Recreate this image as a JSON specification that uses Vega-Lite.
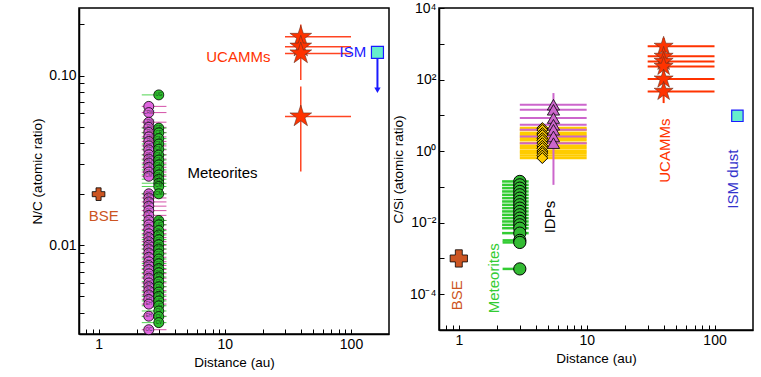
{
  "$schema": "https://vega.github.io/schema/vega-lite/v6.json",
  "padding": {"left": 30, "top": 0, "right": 2, "bottom": 2},
  "config": {
    "font": "Liberation Sans",
    "view": {"stroke": "black", "strokeWidth": 1.5},
    "axis": {
      "grid": false, "domainColor": "black", "domainWidth": 1.5, "tickColor": "black", "tickWidth": 1, "tickSize": -5, "labelPadding": 8,
      "labelFont": "Liberation Sans", "labelFontSize": 14, "labelColor": "black",
      "titleFont": "Liberation Sans", "titleFontSize": 13.5, "titleFontWeight": "normal", "titleColor": "black",
      "labelOverlap": false
    }
  },
  "datasets": {
    "L_bse": [{"d": 1, "v": 0.02}],
    "L_pink": [
      {"d": 2.5, "v": 0.0658, "lab": "", "d1": 2.2, "d2": 3.45},
      {"d": 2.5, "v": 0.0605, "lab": "CRW", "d1": 2.2, "d2": 3.45},
      {"d": 2.5, "v": 0.0531, "lab": "CRW", "d1": 2.2, "d2": 3.45},
      {"d": 2.5, "v": 0.0495, "lab": "CRW", "d1": 2.2, "d2": 3.45},
      {"d": 2.5, "v": 0.0462, "lab": "CRW", "d1": 2.2, "d2": 3.45},
      {"d": 2.5, "v": 0.0435, "lab": "CRW", "d1": 2.2, "d2": 3.45},
      {"d": 2.5, "v": 0.0409, "lab": "CRW", "d1": 2.2, "d2": 3.45},
      {"d": 2.5, "v": 0.0385, "lab": "CR", "d1": 2.2, "d2": 3.45},
      {"d": 2.5, "v": 0.0365, "lab": "CR", "d1": 2.2, "d2": 3.45},
      {"d": 2.5, "v": 0.0342, "lab": "CR", "d1": 2.2, "d2": 3.45},
      {"d": 2.5, "v": 0.0322, "lab": "CR", "d1": 2.2, "d2": 3.45},
      {"d": 2.5, "v": 0.0305, "lab": "CM", "d1": 2.2, "d2": 3.45},
      {"d": 2.5, "v": 0.0288, "lab": "CM", "d1": 2.2, "d2": 3.45},
      {"d": 2.5, "v": 0.027, "lab": "CM", "d1": 2.2, "d2": 3.45},
      {"d": 2.5, "v": 0.0255, "lab": "CM", "d1": 2.2, "d2": 3.45},
      {"d": 2.5, "v": 0.0201, "lab": "CO", "d1": 2.2, "d2": 3.45},
      {"d": 2.5, "v": 0.019, "lab": "OC", "d1": 2.2, "d2": 3.45},
      {"d": 2.5, "v": 0.018, "lab": "OC", "d1": 2.2, "d2": 3.45},
      {"d": 2.5, "v": 0.017, "lab": "OC", "d1": 2.2, "d2": 3.45},
      {"d": 2.5, "v": 0.016, "lab": "OC", "d1": 2.2, "d2": 3.45},
      {"d": 2.5, "v": 0.015, "lab": "OC", "d1": 2.2, "d2": 3.45},
      {"d": 2.5, "v": 0.014, "lab": "OC", "d1": 2.2, "d2": 3.45},
      {"d": 2.5, "v": 0.0132, "lab": "OC", "d1": 2.2, "d2": 3.45},
      {"d": 2.5, "v": 0.0124, "lab": "OC", "d1": 2.2, "d2": 3.45},
      {"d": 2.5, "v": 0.0117, "lab": "OC", "d1": 2.2, "d2": 3.45},
      {"d": 2.5, "v": 0.0111, "lab": "OC", "d1": 2.2, "d2": 3.45},
      {"d": 2.5, "v": 0.0105, "lab": "OC", "d1": 2.2, "d2": 3.45},
      {"d": 2.5, "v": 0.01, "lab": "OC", "d1": 2.2, "d2": 3.45},
      {"d": 2.5, "v": 0.0095, "lab": "OC", "d1": 2.2, "d2": 3.45},
      {"d": 2.5, "v": 0.009, "lab": "OC", "d1": 2.2, "d2": 3.45},
      {"d": 2.5, "v": 0.0085, "lab": "OC", "d1": 2.2, "d2": 3.45},
      {"d": 2.5, "v": 0.008, "lab": "OC", "d1": 2.2, "d2": 3.45},
      {"d": 2.5, "v": 0.0076, "lab": "OC", "d1": 2.2, "d2": 3.45},
      {"d": 2.5, "v": 0.0072, "lab": "CO", "d1": 2.2, "d2": 3.45},
      {"d": 2.5, "v": 0.0068, "lab": "CO", "d1": 2.2, "d2": 3.45},
      {"d": 2.5, "v": 0.0064, "lab": "CO", "d1": 2.2, "d2": 3.45},
      {"d": 2.5, "v": 0.006, "lab": "CO", "d1": 2.2, "d2": 3.45},
      {"d": 2.5, "v": 0.0057, "lab": "OC", "d1": 2.2, "d2": 3.45},
      {"d": 2.5, "v": 0.0054, "lab": "OC", "d1": 2.2, "d2": 3.45},
      {"d": 2.5, "v": 0.0051, "lab": "OC", "d1": 2.2, "d2": 3.45},
      {"d": 2.5, "v": 0.0048, "lab": "EH", "d1": 2.2, "d2": 3.45},
      {"d": 2.5, "v": 0.0045, "lab": "EH", "d1": 2.2, "d2": 3.45},
      {"d": 2.5, "v": 0.00382, "lab": "EH", "d1": 2.2, "d2": 3.45},
      {"d": 2.5, "v": 0.00318, "lab": "OC", "d1": 2.2, "d2": 3.45}
    ],
    "L_green": [
      {"d": 3.0, "v": 0.0769, "lab": "UG", "d1": 2.2, "d2": 2.9},
      {"d": 3.0, "v": 0.049, "lab": "CR", "d1": 2.2, "d2": 3.45},
      {"d": 3.0, "v": 0.046, "lab": "CR", "d1": 2.2, "d2": 3.45},
      {"d": 3.0, "v": 0.0425, "lab": "CM", "d1": 2.2, "d2": 3.45},
      {"d": 3.0, "v": 0.0395, "lab": "CM", "d1": 2.2, "d2": 3.45},
      {"d": 3.0, "v": 0.0368, "lab": "CM", "d1": 2.2, "d2": 3.45},
      {"d": 3.0, "v": 0.034, "lab": "CM", "d1": 2.2, "d2": 3.45},
      {"d": 3.0, "v": 0.0318, "lab": "CM", "d1": 2.2, "d2": 3.45},
      {"d": 3.0, "v": 0.0298, "lab": "CM", "d1": 2.2, "d2": 3.45},
      {"d": 3.0, "v": 0.0278, "lab": "CM", "d1": 2.2, "d2": 3.45},
      {"d": 3.0, "v": 0.026, "lab": "CM", "d1": 2.2, "d2": 3.45},
      {"d": 3.0, "v": 0.0245, "lab": "CM", "d1": 2.2, "d2": 3.45},
      {"d": 3.0, "v": 0.0232, "lab": "CM", "d1": 2.2, "d2": 3.45},
      {"d": 3.0, "v": 0.0222, "lab": "CM", "d1": 2.2, "d2": 3.45},
      {"d": 3.0, "v": 0.0201, "lab": "CM", "d1": 2.2, "d2": 3.45},
      {"d": 3.0, "v": 0.014, "lab": "UG", "d1": 2.2, "d2": 3.45},
      {"d": 3.0, "v": 0.0132, "lab": "UG", "d1": 2.2, "d2": 3.45},
      {"d": 3.0, "v": 0.0122, "lab": "CV", "d1": 2.2, "d2": 3.45},
      {"d": 3.0, "v": 0.0115, "lab": "CV", "d1": 2.2, "d2": 3.45},
      {"d": 3.0, "v": 0.0108, "lab": "CO", "d1": 2.2, "d2": 3.45},
      {"d": 3.0, "v": 0.0101, "lab": "CO", "d1": 2.2, "d2": 3.45},
      {"d": 3.0, "v": 0.0095, "lab": "CO", "d1": 2.2, "d2": 3.45},
      {"d": 3.0, "v": 0.0089, "lab": "CO", "d1": 2.2, "d2": 3.45},
      {"d": 3.0, "v": 0.0083, "lab": "CO", "d1": 2.2, "d2": 3.45},
      {"d": 3.0, "v": 0.0078, "lab": "CO", "d1": 2.2, "d2": 3.45},
      {"d": 3.0, "v": 0.0073, "lab": "CO", "d1": 2.2, "d2": 3.45},
      {"d": 3.0, "v": 0.0069, "lab": "CO", "d1": 2.2, "d2": 3.45},
      {"d": 3.0, "v": 0.0065, "lab": "CV", "d1": 2.2, "d2": 3.45},
      {"d": 3.0, "v": 0.0061, "lab": "CV", "d1": 2.2, "d2": 3.45},
      {"d": 3.0, "v": 0.0057, "lab": "CV", "d1": 2.2, "d2": 3.45},
      {"d": 3.0, "v": 0.0053, "lab": "CK", "d1": 2.2, "d2": 3.45},
      {"d": 3.0, "v": 0.005, "lab": "CK", "d1": 2.2, "d2": 3.45},
      {"d": 3.0, "v": 0.0047, "lab": "UG", "d1": 2.2, "d2": 3.45},
      {"d": 3.0, "v": 0.0044, "lab": "UG", "d1": 2.2, "d2": 3.45},
      {"d": 3.0, "v": 0.0041, "lab": "CV", "d1": 2.2, "d2": 3.45},
      {"d": 3.0, "v": 0.0038, "lab": "CV", "d1": 2.2, "d2": 3.45},
      {"d": 3.0, "v": 0.0035, "lab": "CV", "d1": 2.2, "d2": 3.45}
    ],
    "L_uc": [
      {"d": 40, "v": 0.169, "d1": 30, "d2": 100, "v1": 0.145, "v2": 0.2},
      {"d": 40, "v": 0.148, "d1": 30, "d2": 100, "v1": 0.13, "v2": 0.175},
      {"d": 40, "v": 0.135, "d1": 30, "d2": 100, "v1": 0.094, "v2": 0.16},
      {"d": 40, "v": 0.0574, "d1": 30, "d2": 100, "v1": 0.0272, "v2": 0.0862}
    ],
    "L_ism": [{"d": 162, "v": 0.137, "v2": 0.082}],
    "L_text": [
      {"d": 12.8, "v": 0.128, "t": "UCAMMs", "g": "uc"},
      {"d": 9.6, "v": 0.0266, "t": "Meteorites", "g": "k"},
      {"d": 1.1, "v": 0.0149, "t": "BSE", "g": "bse"}
    ],
    "L_text_ism": [{"d": 132, "v": 0.137, "t": "ISM"}],
    "R_bse": [{"d": 1, "v": 0.001}],
    "R_met": [
      {"d": 3, "v": 0.142, "d1": 2.18, "d2": 3.52},
      {"d": 3, "v": 0.114, "d1": 2.18, "d2": 3.52},
      {"d": 3, "v": 0.0923, "d1": 2.18, "d2": 3.52},
      {"d": 3, "v": 0.0745, "d1": 2.18, "d2": 3.52},
      {"d": 3, "v": 0.0601, "d1": 2.18, "d2": 3.52},
      {"d": 3, "v": 0.0485, "d1": 2.18, "d2": 3.52},
      {"d": 3, "v": 0.0391, "d1": 2.18, "d2": 3.52},
      {"d": 3, "v": 0.0316, "d1": 2.18, "d2": 3.52},
      {"d": 3, "v": 0.0255, "d1": 2.18, "d2": 3.52},
      {"d": 3, "v": 0.0206, "d1": 2.18, "d2": 3.52},
      {"d": 3, "v": 0.0166, "d1": 2.18, "d2": 3.52},
      {"d": 3, "v": 0.0134, "d1": 2.18, "d2": 3.52},
      {"d": 3, "v": 0.0108, "d1": 2.18, "d2": 3.52},
      {"d": 3, "v": 0.0087, "d1": 2.18, "d2": 3.52},
      {"d": 3, "v": 0.007, "d1": 2.18, "d2": 3.52},
      {"d": 3, "v": 0.0051, "d1": 2.18, "d2": 3.52},
      {"d": 3, "v": 0.0032, "d1": 2.2, "d2": 3.3},
      {"d": 3, "v": 0.0028, "d1": 2.2, "d2": 3.3},
      {"d": 3, "v": 0.00051, "d1": 2.2, "d2": 3.0}
    ],
    "R_dia": [
      {"d": 4.5, "v": 4.4, "d1": 3, "d2": 10},
      {"d": 4.5, "v": 3.9, "d1": 3, "d2": 10},
      {"d": 4.5, "v": 3.19, "d1": 3, "d2": 10},
      {"d": 4.5, "v": 2.8, "d1": 3, "d2": 10},
      {"d": 4.5, "v": 2.31, "d1": 3, "d2": 10},
      {"d": 4.5, "v": 2.0, "d1": 3, "d2": 10},
      {"d": 4.5, "v": 1.67, "d1": 3, "d2": 10},
      {"d": 4.5, "v": 1.4, "d1": 3, "d2": 10},
      {"d": 4.5, "v": 1.21, "d1": 3, "d2": 10},
      {"d": 4.5, "v": 1.0, "d1": 3, "d2": 10},
      {"d": 4.5, "v": 0.88, "d1": 3, "d2": 10},
      {"d": 4.5, "v": 0.75, "d1": 3, "d2": 10},
      {"d": 4.5, "v": 0.64, "d1": 3, "d2": 10}
    ],
    "R_tri": [
      {"d": 5.5, "v": 19.8, "d1": 3, "d2": 10},
      {"d": 5.5, "v": 14.3, "d1": 3, "d2": 10},
      {"d": 5.5, "v": 8.4, "d1": 3, "d2": 10},
      {"d": 5.5, "v": 5.45, "d1": 3, "d2": 10},
      {"d": 5.5, "v": 3.95, "d1": 3, "d2": 10},
      {"d": 5.5, "v": 2.57, "d1": 3, "d2": 10},
      {"d": 5.5, "v": 1.67, "d1": 3, "d2": 10}
    ],
    "R_tri_v": [{"d": 5.5, "v1": 0.114, "v2": 41.9}],
    "R_uc": [
      {"d": 40, "v": 848, "d1": 30, "d2": 100},
      {"d": 40, "v": 445, "d1": 30, "d2": 100},
      {"d": 40, "v": 322, "d1": 30, "d2": 100},
      {"d": 40, "v": 233, "d1": 30, "d2": 100},
      {"d": 40, "v": 103, "d1": 30, "d2": 100},
      {"d": 40, "v": 46.7, "d1": 30, "d2": 100}
    ],
    "R_uc_v": [{"d": 40, "v1": 22, "v2": 1450}],
    "R_ism": [{"d": 151, "v": 9.7}],
    "R_text": [
      {"d": 0.96, "v": 0.000093, "t": "BSE", "g": "bse"},
      {"d": 1.87, "v": 0.00028, "t": "Meteorites", "g": "met"},
      {"d": 5.2, "v": 0.0143, "t": "IDPs", "g": "k"},
      {"d": 41, "v": 1.03, "t": "UCAMMs", "g": "uc"},
      {"d": 140, "v": 0.165, "t": "ISM dust", "g": "ism2"}
    ]
  },
  "spacing": 0,
  "hconcat": [
    {
      "width": 310,
      "height": 326,
      "layer": [
        {
          "data": {"name": "L_pink"},
          "mark": {"type": "rule", "color": "#cc3399", "strokeWidth": 1, "opacity": 0.85},
          "encoding": {
            "x": {"field": "d1", "type": "quantitative", "scale": {"type": "log", "domain": [0.7, 200], "nice": false},
              "axis": {"title": "Distance (au)", "values": [0.8, 0.9, 1, 2, 3, 4, 5, 6, 7, 8, 9, 10, 20, 30, 40, 50, 60, 70, 80, 90, 100],
                "labelExpr": "datum.value == 1 ? '1' : datum.value == 10 ? '10' : datum.value == 100 ? '100' : ''"}},
            "x2": {"field": "d2"},
            "y": {"field": "v", "type": "quantitative", "scale": {"type": "log", "domain": [0.003, 0.25], "nice": false},
              "axis": {"title": "N/C (atomic ratio)", "values": [0.003, 0.004, 0.005, 0.006, 0.007, 0.008, 0.009, 0.01, 0.02, 0.03, 0.04, 0.05, 0.06, 0.07, 0.08, 0.09, 0.1, 0.2],
                "labelExpr": "datum.value == 0.1 ? '0.10' : datum.value == 0.01 ? '0.01' : ''"}}
          }
        },
        {
          "data": {"name": "L_green"},
          "mark": {"type": "rule", "color": "#33cc33", "strokeWidth": 1, "opacity": 0.85},
          "encoding": {
            "x": {"field": "d1", "type": "quantitative", "scale": {"type": "log", "domain": [0.7, 200], "nice": false}},
            "x2": {"field": "d2"},
            "y": {"field": "v", "type": "quantitative", "scale": {"type": "log", "domain": [0.003, 0.25], "nice": false}}
          }
        },
        {
          "data": {"name": "L_pink"},
          "mark": {"type": "point", "shape": "circle", "filled": true, "fill": "#e066e0", "stroke": "black", "strokeWidth": 0.8, "size": 100, "opacity": 1},
          "encoding": {
            "x": {"field": "d", "type": "quantitative", "scale": {"type": "log", "domain": [0.7, 200], "nice": false}},
            "y": {"field": "v", "type": "quantitative", "scale": {"type": "log", "domain": [0.003, 0.25], "nice": false}}
          }
        },
        {
          "data": {"name": "L_pink"},
          "mark": {"type": "text", "fontSize": 4.5, "color": "#553355"},
          "encoding": {
            "x": {"field": "d", "type": "quantitative", "scale": {"type": "log", "domain": [0.7, 200], "nice": false}},
            "y": {"field": "v", "type": "quantitative", "scale": {"type": "log", "domain": [0.003, 0.25], "nice": false}},
            "text": {"field": "lab"}
          }
        },
        {
          "data": {"name": "L_green"},
          "mark": {"type": "point", "shape": "circle", "filled": true, "fill": "#2fbf2f", "stroke": "black", "strokeWidth": 0.8, "size": 100, "opacity": 1},
          "encoding": {
            "x": {"field": "d", "type": "quantitative", "scale": {"type": "log", "domain": [0.7, 200], "nice": false}},
            "y": {"field": "v", "type": "quantitative", "scale": {"type": "log", "domain": [0.003, 0.25], "nice": false}}
          }
        },
        {
          "data": {"name": "L_green"},
          "mark": {"type": "text", "fontSize": 4.5, "color": "#114411"},
          "encoding": {
            "x": {"field": "d", "type": "quantitative", "scale": {"type": "log", "domain": [0.7, 200], "nice": false}},
            "y": {"field": "v", "type": "quantitative", "scale": {"type": "log", "domain": [0.003, 0.25], "nice": false}},
            "text": {"field": "lab"}
          }
        },
        {
          "data": {"name": "L_bse"},
          "mark": {"type": "point", "shape": "cross", "filled": true, "fill": "#cc5522", "stroke": "black", "strokeWidth": 0.8, "size": 160, "opacity": 1},
          "encoding": {
            "x": {"field": "d", "type": "quantitative", "scale": {"type": "log", "domain": [0.7, 200], "nice": false}},
            "y": {"field": "v", "type": "quantitative", "scale": {"type": "log", "domain": [0.003, 0.25], "nice": false}}
          }
        },
        {
          "data": {"name": "L_uc"},
          "mark": {"type": "rule", "color": "#ff4422", "strokeWidth": 1.5},
          "encoding": {
            "x": {"field": "d1", "type": "quantitative", "scale": {"type": "log", "domain": [0.7, 200], "nice": false}},
            "x2": {"field": "d2"},
            "y": {"field": "v", "type": "quantitative", "scale": {"type": "log", "domain": [0.003, 0.25], "nice": false}}
          }
        },
        {
          "data": {"name": "L_uc"},
          "mark": {"type": "rule", "color": "#ff4422", "strokeWidth": 1.5},
          "encoding": {
            "x": {"field": "d", "type": "quantitative", "scale": {"type": "log", "domain": [0.7, 200], "nice": false}},
            "y": {"field": "v1", "type": "quantitative", "scale": {"type": "log", "domain": [0.003, 0.25], "nice": false}},
            "y2": {"field": "v2"}
          }
        },
        {
          "data": {"name": "L_uc"},
          "mark": {"type": "point", "shape": "M0,-1L0.225,-0.309L0.951,-0.309L0.363,0.118L0.588,0.809L0,0.382L-0.588,0.809L-0.363,0.118L-0.951,-0.309L-0.225,-0.309Z", "filled": true, "fill": "#ff3300", "stroke": "#663322", "strokeWidth": 0.6, "size": 520, "opacity": 1},
          "encoding": {
            "x": {"field": "d", "type": "quantitative", "scale": {"type": "log", "domain": [0.7, 200], "nice": false}},
            "y": {"field": "v", "type": "quantitative", "scale": {"type": "log", "domain": [0.003, 0.25], "nice": false}}
          }
        },
        {
          "data": {"name": "L_ism"},
          "mark": {"type": "rule", "color": "#1a1aff", "strokeWidth": 2},
          "encoding": {
            "x": {"field": "d", "type": "quantitative", "scale": {"type": "log", "domain": [0.7, 200], "nice": false}},
            "y": {"field": "v", "type": "quantitative", "scale": {"type": "log", "domain": [0.003, 0.25], "nice": false}},
            "y2": {"field": "v2"}
          }
        },
        {
          "data": {"name": "L_ism"},
          "mark": {"type": "point", "shape": "triangle-down", "filled": true, "fill": "#1a1aff", "size": 40, "opacity": 1},
          "encoding": {
            "x": {"field": "d", "type": "quantitative", "scale": {"type": "log", "domain": [0.7, 200], "nice": false}},
            "y": {"field": "v2", "type": "quantitative", "scale": {"type": "log", "domain": [0.003, 0.25], "nice": false}}
          }
        },
        {
          "data": {"name": "L_ism"},
          "mark": {"type": "point", "shape": "square", "filled": true, "fill": "#66eecc", "stroke": "#1a1aff", "strokeWidth": 1.2, "size": 144, "opacity": 1},
          "encoding": {
            "x": {"field": "d", "type": "quantitative", "scale": {"type": "log", "domain": [0.7, 200], "nice": false}},
            "y": {"field": "v", "type": "quantitative", "scale": {"type": "log", "domain": [0.003, 0.25], "nice": false}}
          }
        },
        {
          "data": {"name": "L_text"},
          "mark": {"type": "text", "fontSize": 15, "align": "center", "baseline": "middle"},
          "encoding": {
            "x": {"field": "d", "type": "quantitative", "scale": {"type": "log", "domain": [0.7, 200], "nice": false}},
            "y": {"field": "v", "type": "quantitative", "scale": {"type": "log", "domain": [0.003, 0.25], "nice": false}},
            "text": {"field": "t"},
            "color": {"field": "g", "type": "nominal", "scale": {"domain": ["uc", "k", "bse", "ism", "met", "ism2"], "range": ["#ff3300", "#000000", "#cc5522", "#1a1aff", "#33cc33", "#3333cc"]}, "legend": null}
          }
        },
        {
          "data": {"name": "L_text_ism"},
          "mark": {"type": "text", "fontSize": 15, "align": "right", "baseline": "middle", "color": "#1a1aff"},
          "encoding": {
            "x": {"field": "d", "type": "quantitative", "scale": {"type": "log", "domain": [0.7, 200], "nice": false}},
            "y": {"field": "v", "type": "quantitative", "scale": {"type": "log", "domain": [0.003, 0.25], "nice": false}},
            "text": {"field": "t"}
          }
        }
      ]
    },
    {
      "width": 314,
      "height": 322,
      "layer": [
        {
          "data": {"name": "R_met"},
          "mark": {"type": "rule", "color": "#33cc33", "strokeWidth": 2.5},
          "encoding": {
            "x": {"field": "d1", "type": "quantitative", "scale": {"type": "log", "domain": [0.7, 200], "nice": false},
              "axis": {"title": "Distance (au)", "values": [0.8, 0.9, 1, 2, 3, 4, 5, 6, 7, 8, 9, 10, 20, 30, 40, 50, 60, 70, 80, 90, 100],
                "labelExpr": "datum.value == 1 ? '1' : datum.value == 10 ? '10' : datum.value == 100 ? '100' : ''"}},
            "x2": {"field": "d2"},
            "y": {"field": "v", "type": "quantitative", "scale": {"type": "log", "domain": [0.00001, 10000], "nice": false},
              "axis": {"title": "C/Si (atomic ratio)", "values": [0.0001, 0.001, 0.01, 0.1, 1, 10, 100, 1000, 10000],
                "labelExpr": "datum.value == 10000 ? '10⁴' : datum.value == 100 ? '10²' : datum.value == 1 ? '10⁰' : datum.value == 0.01 ? '10⁻²' : datum.value == 0.0001 ? '10⁻⁴' : ''"}}
          }
        },
        {
          "data": {"name": "R_met"},
          "mark": {"type": "point", "shape": "circle", "filled": true, "fill": "#33bb33", "stroke": "black", "strokeWidth": 1, "size": 150, "opacity": 1},
          "encoding": {
            "x": {"field": "d", "type": "quantitative", "scale": {"type": "log", "domain": [0.7, 200], "nice": false}},
            "y": {"field": "v", "type": "quantitative", "scale": {"type": "log", "domain": [0.00001, 10000], "nice": false}}
          }
        },
        {
          "data": {"name": "R_bse"},
          "mark": {"type": "point", "shape": "cross", "filled": true, "fill": "#cc5522", "stroke": "black", "strokeWidth": 0.8, "size": 300, "opacity": 1},
          "encoding": {
            "x": {"field": "d", "type": "quantitative", "scale": {"type": "log", "domain": [0.7, 200], "nice": false}},
            "y": {"field": "v", "type": "quantitative", "scale": {"type": "log", "domain": [0.00001, 10000], "nice": false}}
          }
        },
        {
          "data": {"name": "R_dia"},
          "mark": {"type": "rule", "color": "#ffcc00", "strokeWidth": 2.5},
          "encoding": {
            "x": {"field": "d1", "type": "quantitative", "scale": {"type": "log", "domain": [0.7, 200], "nice": false}},
            "x2": {"field": "d2"},
            "y": {"field": "v", "type": "quantitative", "scale": {"type": "log", "domain": [0.00001, 10000], "nice": false}}
          }
        },
        {
          "data": {"name": "R_tri"},
          "mark": {"type": "rule", "color": "#cc66cc", "strokeWidth": 2},
          "encoding": {
            "x": {"field": "d1", "type": "quantitative", "scale": {"type": "log", "domain": [0.7, 200], "nice": false}},
            "x2": {"field": "d2"},
            "y": {"field": "v", "type": "quantitative", "scale": {"type": "log", "domain": [0.00001, 10000], "nice": false}}
          }
        },
        {
          "data": {"name": "R_tri_v"},
          "mark": {"type": "rule", "color": "#cc66cc", "strokeWidth": 2},
          "encoding": {
            "x": {"field": "d", "type": "quantitative", "scale": {"type": "log", "domain": [0.7, 200], "nice": false}},
            "y": {"field": "v1", "type": "quantitative", "scale": {"type": "log", "domain": [0.00001, 10000], "nice": false}},
            "y2": {"field": "v2"}
          }
        },
        {
          "data": {"name": "R_dia"},
          "mark": {"type": "point", "shape": "diamond", "filled": true, "fill": "#ffcc00", "stroke": "black", "strokeWidth": 1, "size": 120, "opacity": 1},
          "encoding": {
            "x": {"field": "d", "type": "quantitative", "scale": {"type": "log", "domain": [0.7, 200], "nice": false}},
            "y": {"field": "v", "type": "quantitative", "scale": {"type": "log", "domain": [0.00001, 10000], "nice": false}}
          }
        },
        {
          "data": {"name": "R_tri"},
          "mark": {"type": "point", "shape": "triangle-up", "filled": true, "fill": "#cc66cc", "stroke": "black", "strokeWidth": 0.8, "size": 150, "opacity": 1},
          "encoding": {
            "x": {"field": "d", "type": "quantitative", "scale": {"type": "log", "domain": [0.7, 200], "nice": false}},
            "y": {"field": "v", "type": "quantitative", "scale": {"type": "log", "domain": [0.00001, 10000], "nice": false}}
          }
        },
        {
          "data": {"name": "R_uc"},
          "mark": {"type": "rule", "color": "#ff3300", "strokeWidth": 2},
          "encoding": {
            "x": {"field": "d1", "type": "quantitative", "scale": {"type": "log", "domain": [0.7, 200], "nice": false}},
            "x2": {"field": "d2"},
            "y": {"field": "v", "type": "quantitative", "scale": {"type": "log", "domain": [0.00001, 10000], "nice": false}}
          }
        },
        {
          "data": {"name": "R_uc_v"},
          "mark": {"type": "rule", "color": "#ff3300", "strokeWidth": 2},
          "encoding": {
            "x": {"field": "d", "type": "quantitative", "scale": {"type": "log", "domain": [0.7, 200], "nice": false}},
            "y": {"field": "v1", "type": "quantitative", "scale": {"type": "log", "domain": [0.00001, 10000], "nice": false}},
            "y2": {"field": "v2"}
          }
        },
        {
          "data": {"name": "R_uc"},
          "mark": {"type": "point", "shape": "M0,-1L0.225,-0.309L0.951,-0.309L0.363,0.118L0.588,0.809L0,0.382L-0.588,0.809L-0.363,0.118L-0.951,-0.309L-0.225,-0.309Z", "filled": true, "fill": "#ff3300", "stroke": "#663322", "strokeWidth": 0.6, "size": 400, "opacity": 1},
          "encoding": {
            "x": {"field": "d", "type": "quantitative", "scale": {"type": "log", "domain": [0.7, 200], "nice": false}},
            "y": {"field": "v", "type": "quantitative", "scale": {"type": "log", "domain": [0.00001, 10000], "nice": false}}
          }
        },
        {
          "data": {"name": "R_ism"},
          "mark": {"type": "point", "shape": "square", "filled": true, "fill": "#66eecc", "stroke": "#1a1aff", "strokeWidth": 1.2, "size": 130, "opacity": 1},
          "encoding": {
            "x": {"field": "d", "type": "quantitative", "scale": {"type": "log", "domain": [0.7, 200], "nice": false}},
            "y": {"field": "v", "type": "quantitative", "scale": {"type": "log", "domain": [0.00001, 10000], "nice": false}}
          }
        },
        {
          "data": {"name": "R_text"},
          "mark": {"type": "text", "fontSize": 15, "align": "center", "baseline": "middle", "angle": 270},
          "encoding": {
            "x": {"field": "d", "type": "quantitative", "scale": {"type": "log", "domain": [0.7, 200], "nice": false}},
            "y": {"field": "v", "type": "quantitative", "scale": {"type": "log", "domain": [0.00001, 10000], "nice": false}},
            "text": {"field": "t"},
            "color": {"field": "g", "type": "nominal", "scale": {"domain": ["uc", "k", "bse", "ism", "met", "ism2"], "range": ["#ff3300", "#000000", "#cc5522", "#1a1aff", "#33cc33", "#3333cc"]}, "legend": null}
          }
        }
      ]
    }
  ]
}
